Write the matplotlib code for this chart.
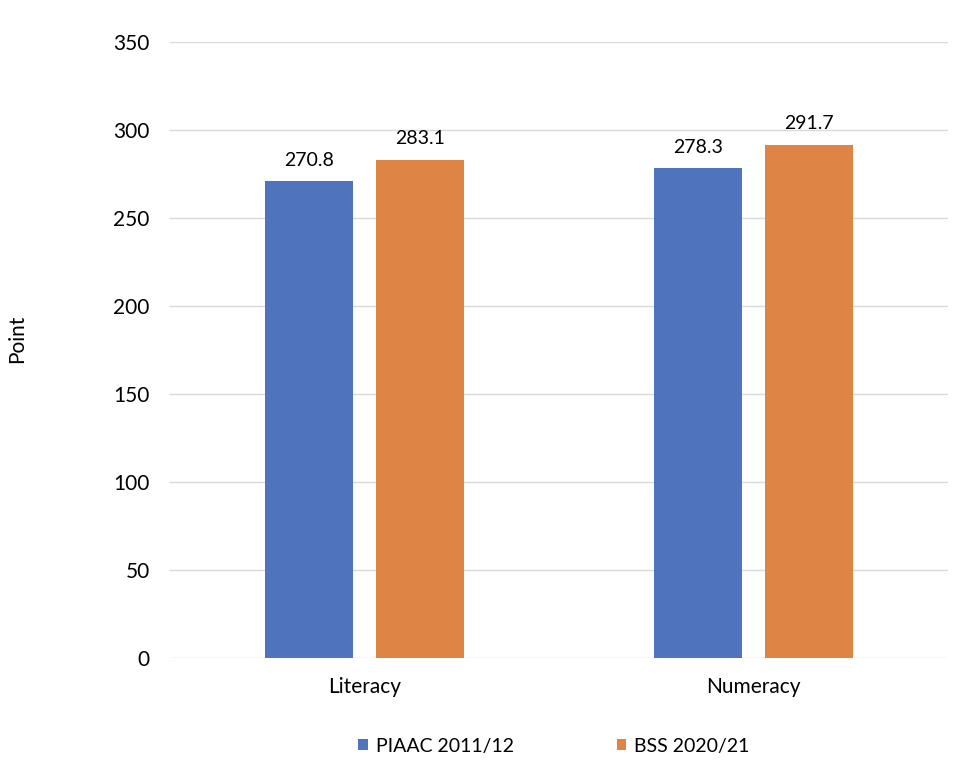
import matplotlib.pyplot as plt
import numpy as np

categories = ['Literacy', 'Numeracy']
series_names = ['PIAAC 2011/12', 'BSS 2020/21']
piaac_scores = [270.8, 278.3]
bss_scores = [283.1, 291.7]
y_ticks = [0, 50, 100, 150, 200, 250, 300, 350]

plt.rcParams['font.family'] = ['Lato', 'DejaVu Sans']

fig = plt.figure(figsize=(9.6, 7.7), dpi=100)
axes = fig.add_axes([0.177, 0.1455, 0.8105, 0.80])

x = np.arange(len(categories))
width = 0.226
offset = 0.142
colors = ['#5073BE', '#DE8444']

for idx, (name, values) in enumerate(zip(series_names, [piaac_scores, bss_scores])):
    pos = x + (offset if idx else -offset)
    bars = axes.bar(pos, values, width=width, color=colors[idx], label=name, zorder=3)
    for bar, value in zip(bars, values):
        axes.text(bar.get_x() + bar.get_width() / 2, value + 7, f'{value:.1f}',
                  ha='center', va='bottom', fontsize=14, color='#000000')

axes.set_xlim(-0.5, 1.5)
axes.set_ylim(0, 350)
axes.set_yticks(y_ticks)
axes.set_xticks(x)
axes.set_xticklabels(categories)
axes.tick_params(axis='both', length=0, labelsize=15, colors='#000000')
axes.tick_params(axis='y', pad=14.5)
axes.tick_params(axis='x', pad=14)
axes.grid(axis='y', color='#D9D9D9', linewidth=1, zorder=0)
axes.set_axisbelow(True)
for spine in axes.spines.values():
    spine.set_visible(False)

fig.text(0.018, 0.56, 'Point', rotation=90, ha='center', va='center', fontsize=15)

fig.legend(loc='center', bbox_to_anchor=(0.577, 0.031), ncol=2, frameon=False,
           fontsize=14, handlelength=0.5, handleheight=0.5, columnspacing=5.3,
           handletextpad=0.4)

fig.savefig('out.png', dpi=100)
